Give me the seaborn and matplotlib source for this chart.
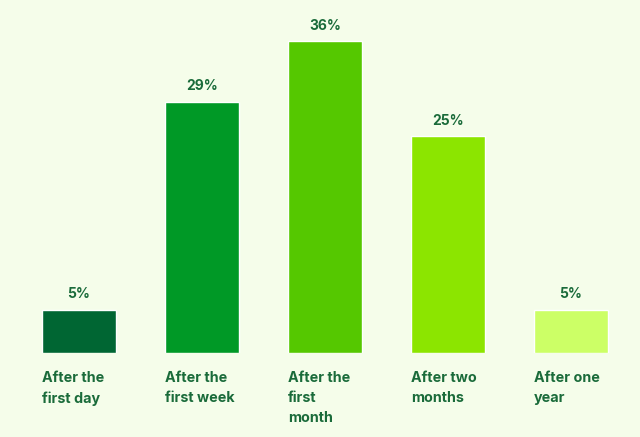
import matplotlib
matplotlib.use("Agg")
import matplotlib.pyplot as plt
import seaborn as sns
import pandas as pd

# data
categories = ["After the\nfirst day", "After the\nfirst week", "After the\nfirst\nmonth",
              "After two\nmonths", "After one\nyear"]
shares = [5, 29, 36, 25, 5]
value_labels = ["5%", "29%", "36%", "25%", "5%"]
bar_colors = ["#006633", "#009926", "#55C800", "#8CE500", "#CCFF66"]

bg = "#F5FDEA"
text_color = "#1A6B3A"

sns.set_style("white")
plt.rcParams["font.family"] = ["Inter", "DejaVu Sans"]

df = pd.DataFrame({"period": categories, "share": shares})

fig = plt.figure(figsize=(6.4, 4.37), dpi=100, facecolor=bg)
ax = fig.add_axes([0.0273, 0.1922, 0.961, 0.7934])
ax.set_facecolor(bg)

bar_w = 0.6
sns.barplot(data=df, x="period", y="share", hue="period", palette=bar_colors,
            width=bar_w, legend=False, ax=ax, saturation=1)

for i, (v, lab, cat) in enumerate(zip(shares, value_labels, categories)):
    ax.annotate(lab, (i, v), xytext=(0, 6), textcoords="offset points",
                ha="center", va="bottom", fontsize=10, fontweight="bold",
                color=text_color)
    ax.text(i - bar_w / 2, -2.05, cat, ha="left", va="top", fontsize=10.3,
            fontweight="bold", color=text_color, linespacing=1.55)

ax.set_xlim(-0.5, 4.5)
ax.set_ylim(0, 40)
ax.set_xticks([])
ax.set_yticks([])
ax.set_xlabel("")
ax.set_ylabel("")
sns.despine(ax=ax, left=True, bottom=True)

fig.savefig("out.png", dpi=100, facecolor=bg)
